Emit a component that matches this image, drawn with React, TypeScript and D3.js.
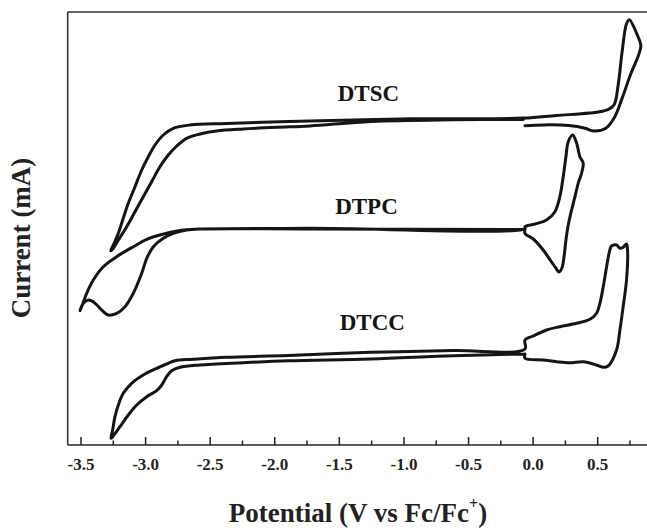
import React from 'react';
import * as d3 from 'd3';

// x axis ticks (V vs Fc/Fc+)
const xMajorTicks = [-3.5, -3.0, -2.5, -2.0, -1.5, -1.0, -0.5, 0.0, 0.5];
const xMinorTicks = [-3.25, -2.75, -2.25, -1.75, -1.25, -0.75, -0.25, 0.25, 0.75];
const curveNames = ['DTSC', 'DTPC', 'DTCC'];

// Cyclic voltammograms: [potential (V), current (arb. units, stacked offsets)]
const dtsc: [number, number][] = [
  [-0.063, 31.93], [0.084, 32.01], [0.276, 31.95], [0.403, 31.68], [0.467, 31.41],
  [0.563, 31.68], [0.627, 32.69], [0.69, 34.71], [0.755, 37.07], [0.819, 39.09],
  [0.834, 39.93], [0.803, 41.11], [0.745, 42.53], [0.723, 42.12], [0.69, 39.43],
  [0.659, 36.06], [0.627, 34.03], [0.579, 33.53], [0.436, 33.19], [0.18, 32.96],
  [-0.075, 32.69], [-0.937, 32.62], [-1.895, 32.35], [-2.372, 32.15], [-2.656, 32.0],
  [-2.786, 31.67], [-2.863, 31.0], [-2.927, 30.0], [-2.979, 28.83], [-3.03, 27.5],
  [-3.082, 25.83], [-3.134, 24.17], [-3.173, 22.67], [-3.211, 21.17], [-3.25, 20.0],
  [-3.27, 19.43], [-3.255, 19.57], [-3.211, 20.5], [-3.146, 21.83], [-3.082, 23.33],
  [-3.018, 24.83], [-2.953, 26.33], [-2.889, 27.83], [-2.824, 29.0], [-2.759, 29.9],
  [-2.682, 30.67], [-2.579, 31.1], [-2.45, 31.4], [-2.244, 31.6], [-1.985, 31.77],
  [-1.728, 31.9], [-1.256, 32.35], [-0.618, 32.52], [-0.075, 32.55],
];

const dtpc: [number, number][] = [
  [-0.063, 21.55], [-0.063, 21.15], [0.001, 20.6], [0.078, 19.5], [0.143, 18.3],
  [0.176, 17.7], [0.2, 17.3], [0.223, 17.7], [0.238, 18.7], [0.254, 20.5],
  [0.272, 22.0], [0.298, 23.5], [0.324, 24.83], [0.349, 26.17], [0.375, 27.17],
  [0.388, 28.17], [0.362, 28.83], [0.337, 30.17], [0.306, 31.0], [0.272, 30.33],
  [0.254, 28.83], [0.233, 26.83], [0.207, 24.83], [0.169, 23.33], [0.104, 22.5],
  [0.014, 22.1], [-0.063, 21.83], [-0.063, 21.63], [-1.728, 21.67], [-2.579, 21.6],
  [-2.631, 21.57], [-2.708, 21.5], [-2.786, 21.33], [-2.889, 21.0], [-2.991, 20.57],
  [-3.095, 19.83], [-3.224, 18.83], [-3.327, 17.83], [-3.405, 16.5], [-3.456, 15.17],
  [-3.495, 13.83], [-3.508, 13.43], [-3.482, 14.17], [-3.443, 14.5], [-3.405, 14.33],
  [-3.353, 13.67], [-3.289, 13.0], [-3.224, 13.17], [-3.159, 13.83], [-3.095, 15.17],
  [-3.03, 17.17], [-2.991, 18.67], [-2.94, 19.83], [-2.863, 20.67], [-2.786, 21.17],
  [-2.682, 21.5], [-2.579, 21.6], [-1.728, 21.6], [-0.063, 21.55],
];

const dtcc: [number, number][] = [
  [-0.063, 9.1], [-0.063, 8.67], [0.078, 8.5], [0.182, 8.33], [0.285, 8.23],
  [0.388, 8.33], [0.491, 8.0], [0.543, 7.77], [0.581, 7.9], [0.646, 9.5],
  [0.672, 11.5], [0.697, 13.83], [0.723, 16.5], [0.731, 19.5], [0.723, 20.1],
  [0.697, 19.77], [0.672, 19.67], [0.646, 20.0], [0.607, 19.9], [0.594, 19.5],
  [0.569, 17.83], [0.543, 15.83], [0.517, 14.17], [0.491, 13.17], [0.44, 12.57],
  [0.337, 12.17], [0.207, 11.83], [0.104, 11.5], [0.001, 10.9], [-0.063, 10.5],
  [-0.063, 9.6], [-0.618, 9.44], [-1.256, 9.27], [-1.895, 8.95], [-2.372, 8.77],
  [-2.631, 8.57], [-2.772, 8.43], [-2.837, 8.1], [-2.914, 7.67], [-3.018, 7.0],
  [-3.108, 6.17], [-3.173, 5.17], [-3.211, 4.0], [-3.237, 2.83], [-3.255, 1.5],
  [-3.268, 0.67], [-3.255, 0.83], [-3.198, 1.83], [-3.134, 3.0], [-3.069, 4.0],
  [-2.991, 4.83], [-2.914, 5.43], [-2.875, 6.0], [-2.837, 6.83], [-2.798, 7.43],
  [-2.734, 7.77], [-2.579, 8.0], [-2.244, 8.23], [-1.895, 8.43], [-1.256, 8.6],
  [-0.618, 8.93], [-0.063, 9.1],
];

const curves = [dtsc, dtpc, dtcc];
const labelAnchors: [number, number][] = [[-1.275, 34.37], [-1.29, 23.08], [-1.245, 11.53]];

const W = 647;
const H = 530;
const left = 67.7;
const top = 12;
const bottom = 445;

export default function App() {
  const x = d3.scaleLinear().domain([-3.5, 0.5]).range([81, 597.7]);
  const y = d3.scaleLinear().domain([0, 43.3]).range([bottom, top]);
  const line = d3
    .line<[number, number]>()
    .x((d) => x(d[0]))
    .y((d) => y(d[1]))
    .curve(d3.curveCatmullRom.alpha(0.5));

  const font = '"Liberation Serif", "Times New Roman", serif';
  const fmt = (v: number) => v.toFixed(1);

  return (
    <svg
      width={W}
      height={H}
      style={{ position: 'absolute', left: 0, top: 0, background: '#fff' }}
      fontFamily={font}
      fontWeight="bold"
    >
      {/* frame */}
      <line x1={left} x2={W} y1={top} y2={top} stroke="#333" strokeWidth={1.6} />
      <line x1={left} x2={left} y1={top} y2={bottom} stroke="#333" strokeWidth={1.6} />
      <line x1={left} x2={W} y1={bottom} y2={bottom} stroke="#222" strokeWidth={1.6} />

      {xMajorTicks.map((t) => (
        <g key={'M' + t}>
          <line x1={x(t)} x2={x(t)} y1={bottom} y2={bottom - 8} stroke="#222" strokeWidth={1.5} />
          <text x={x(t)} y={469.5} textAnchor="middle" fontSize={17} fill="#222">
            {fmt(t)}
          </text>
        </g>
      ))}
      {xMinorTicks.map((t) => (
        <line key={'m' + t} x1={x(t)} x2={x(t)} y1={bottom} y2={bottom - 4.5} stroke="#222" strokeWidth={1.5} />
      ))}

      {curves.map((c, i) => (
        <path key={i} d={line(c) || ''} fill="none" stroke="#151515" strokeWidth={3} strokeLinejoin="round" strokeLinecap="round" />
      ))}

      {curveNames.map((n, i) => (
        <text key={n} x={x(labelAnchors[i][0])} y={y(labelAnchors[i][1])} textAnchor="middle" fontSize={23} fill="#151515">
          {n}
        </text>
      ))}

      <text x={358} y={522} textAnchor="middle" fontSize={27} fill="#222">
        Potential (V vs Fc/Fc
        <tspan fontSize={16} dy={-13}>+</tspan>
        <tspan dy={13}>)</tspan>
      </text>
      <text transform="translate(30,238) rotate(-90)" textAnchor="middle" fontSize={27} fill="#222">
        Current (mA)
      </text>
    </svg>
  );
}
